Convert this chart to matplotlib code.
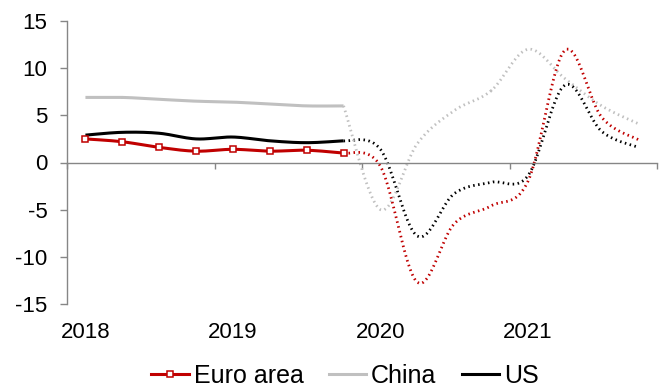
import numpy as np
import matplotlib
matplotlib.use("Agg")
import matplotlib.pyplot as plt
import matplotlib.transforms as mtransforms

plt.rcParams['font.family'] = ['Liberation Sans', 'DejaVu Sans']
plt.rcParams['axes.unicode_minus'] = False

# quarterly GDP growth, 2018Q1 - 2021Q4 (outturns to 2019Q4, projections after)
years = ["2018", "2019", "2020", "2021"]
n_actual = 8
euro = [2.5, 2.2, 1.6, 1.2, 1.4, 1.2, 1.3, 1.0,
        -0.4, -12.7, -6.5, -4.6, -2.0, 11.9, 4.8, 2.4]
china = [6.9, 6.9, 6.7, 6.5, 6.4, 6.2, 6.0, 6.0,
         -5.0, 2.0, 5.5, 7.6, 12.0, 8.9, 6.0, 4.1]
us = [2.9, 3.2, 3.1, 2.5, 2.7, 2.3, 2.1, 2.3,
      1.4, -7.8, -3.3, -2.1, -1.4, 8.2, 3.3, 1.6]

RED = "#C00000"
GREY = "#C0C0C0"
AXIS = "#868686"


def smooth(x, y, steps=20):
    # Catmull-Rom spline through every point, like a spreadsheet "smoothed line"
    x = np.asarray(x, float)
    y = np.asarray(y, float)
    px = np.concatenate([[x[0]], x, [x[-1]]])
    py = np.concatenate([[y[0]], y, [y[-1]]])
    t = np.linspace(0, 1, steps)[:, None]
    xs, ys = [], []
    for i in range(1, len(px) - 2):
        for p, out in ((px, xs), (py, ys)):
            p0, p1, p2, p3 = p[i - 1], p[i], p[i + 1], p[i + 2]
            seg = 0.5 * ((2 * p1) + (-p0 + p2) * t
                         + (2 * p0 - 5 * p1 + 4 * p2 - p3) * t ** 2
                         + (-p0 + 3 * p1 - 3 * p2 + p3) * t ** 3)
            out.append(seg.ravel())
    return np.concatenate(xs), np.concatenate(ys)


fig = plt.figure(figsize=(6.65, 3.87), dpi=100)
ax = fig.add_axes([67 / 665, 1 - 304 / 387, 590 / 665, 283 / 387])

xq = np.arange(len(euro)) + 0.5
dot = (0, (0.55, 1.25))

series = [("Euro area", euro, RED), ("China", china, GREY), ("US", us, "k")]
handles = []
for name, vals, col in series[::-1]:
    sx, sy = smooth(xq[n_actual - 1:], vals[n_actual - 1:])
    ax.plot(sx, sy, color=col, lw=2.0, linestyle=dot, zorder=2)
for name, vals, col in series[::-1]:
    sx, sy = smooth(xq[:n_actual], vals[:n_actual])
    ax.plot(sx, sy, color=col, lw=2.2, solid_capstyle='butt', zorder=3)
    if name == "Euro area":
        ax.plot(xq[:n_actual], vals[:n_actual], ls='none', marker='s',
                ms=5, mfc='white', mec=col, mew=1.1, zorder=4)
        h, = ax.plot([], [], color=col, lw=2.2, marker='s', ms=5,
                     mfc='white', mec=col, mew=1.1)
    else:
        h, = ax.plot([], [], color=col, lw=2.2)
    handles.append((name, h))
handles = handles[::-1]

ax.set_xlim(0, 16)
ax.set_ylim(-15, 15)
ax.set_yticks(np.arange(-15, 16, 5))
ax.set_xticks(np.arange(0, 17, 4))
ax.set_xticklabels([])

for s in ("top", "right"):
    ax.spines[s].set_visible(False)
ax.spines["bottom"].set_position(("data", 0))
for s in ("left", "bottom"):
    ax.spines[s].set_color(AXIS)
    ax.spines[s].set_linewidth(1.0)
ax.tick_params(axis='y', direction='out', length=5, width=1, color=AXIS,
               labelsize=16, pad=9)
ax.tick_params(axis='x', direction='out', length=4.5, width=1, color=AXIS)

trans = mtransforms.blended_transform_factory(ax.transData, ax.transAxes)
for k, yr in enumerate(years):
    ax.text(xq[4 * k], -0.1, yr, transform=trans, ha='center', va='center',
            fontsize=16)

fig.legend([h for _, h in handles], [n for n, _ in handles],
           loc='center', bbox_to_anchor=(345 / 665, 1 - 376 / 387),
           ncol=3, frameon=False, fontsize=18, handlelength=1.5,
           handletextpad=0.2, columnspacing=1.0, borderpad=0)

fig.savefig("out.png", dpi=100)
